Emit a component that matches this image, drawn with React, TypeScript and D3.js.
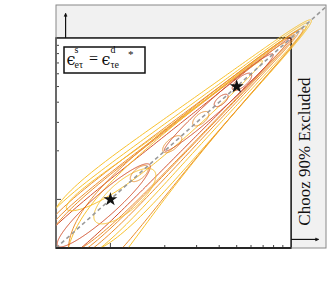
import * as d3 from "d3";

// axis ranges (both axes logarithmic)
const axisMin = 0.5;
const axisMaxX = 15.6;
const axisMaxY = 16;
const choozLimit = 10;
const tickValues = [1, 2, 3, 4, 5, 6, 7, 8, 9];
const majorTicks = [1];
const arrowAt = 0.565;
const arrowTo = 14.2;
const truePoints = [1, 5];
const levels = ["1s", "2s", "3s"];

// long contours, ellipses in linear space: level, centre on the diagonal,
// half length along it, half width across it, offset across it
const bandLevel = ["3s", "3s", "2s", "2s", "1s", "3s", "2s", "3s", "2s"];
const bandCentre = [6.7, 6.4, 5.7, 5.45, 5.2, 3.9, 4.9, 6.2, 6.0];
const bandHalfLength = [6.2, 6.0, 5.3, 5.05, 4.85, 3.18, 4.45, 5.75, 5.5];
const bandHalfWidth = [0.78, 0.62, 0.5, 0.42, 0.3, 0.25, 0.38, 0.6, 0.62];
const bandOffset = [0, 0, 0, 0, 0, 0.14, 0, -0.15, -0.12];

// closed contours, ellipses in log10 space (decades)
const islandLevel = ["1s", "3s", "2s", "2s", "2s", "1s", "1s", "1s"];
const islandCentre = [-0.037, 0.05, 0.16, 0.342, 0.5, 0.613, 0.728, 0.6];
const islandHalfLength = [0.253, 0.16, 0.045, 0.048, 0.04, 0.035, 0.05, 0.3];
const islandHalfWidth = [0.048, 0.062, 0.022, 0.022, 0.02, 0.016, 0.02, 0.03];
const islandOffset = [0, -0.03, 0, 0, 0, 0, 0, 0];

const W = 327;
const H = 294;
const left = 56;
const right = 326;
const top = 5;
const bottom = 248;

const App = () => {
  const x = d3.scaleLog().domain([axisMin, axisMaxX]).range([left, right]);
  const y = d3.scaleLog().domain([axisMin, axisMaxY]).range([bottom, top]);
  const color = d3.scaleOrdinal<string, string>().domain(levels).range(["#d2502c", "#ec8f2e", "#f9c22e"]);

  const line = d3
    .line<[number, number]>()
    .x((d) => x(Math.max(d[0], 1e-3)))
    .y((d) => y(Math.max(d[1], 1e-3)))
    .curve(d3.curveLinearClosed);

  const angles = d3.range(0, 2 * Math.PI, Math.PI / 180);

  const bandPath = (i: number) => {
    const pts: [number, number][] = angles.map((th) => {
      const along = bandCentre[i] + bandHalfLength[i] * Math.cos(th);
      const across = bandOffset[i] + bandHalfWidth[i] * Math.sin(th);
      return [along - across, along + across];
    });
    return line(pts) || "";
  };

  const islandPath = (i: number) => {
    const pts: [number, number][] = angles.map((th) => {
      const along = islandCentre[i] + islandHalfLength[i] * Math.cos(th);
      const across = islandOffset[i] + islandHalfWidth[i] * Math.sin(th);
      return [Math.pow(10, along - across), Math.pow(10, along + across)];
    });
    return line(pts) || "";
  };

  const star = d3.symbol().type(d3.symbolStar).size(60)() || "";
  const serif = "'Liberation Serif', 'DejaVu Serif', serif";
  const eps = "'DejaVu Serif', serif";

  return (
    <svg width={W} height={H} style={{ position: "absolute", left: 0, top: 0 }}>
      <defs>
        <clipPath id="frame">
          <rect x={left} y={top} width={right - left} height={bottom - top} />
        </clipPath>
      </defs>
      <rect width={W} height={H} fill="#fff" />
      {/* excluded region */}
      <rect x={left} y={top} width={right - left} height={bottom - top} fill="#f1f1f1" />
      <rect
        x={left}
        y={y(choozLimit)}
        width={x(choozLimit) - left}
        height={bottom - y(choozLimit)}
        fill="#fff"
        stroke="#111"
        strokeWidth={1.5}
      />

      {/* ticks */}
      {tickValues.map((v) => (
        <g key={v} stroke="#444" strokeWidth={1}>
          <line x1={x(v)} x2={x(v)} y1={bottom} y2={bottom - (majorTicks.includes(v) ? 5 : 3)} />
          <line x1={left} x2={left + (majorTicks.includes(v) ? 5 : 3)} y1={y(v)} y2={y(v)} />
        </g>
      ))}

      <g clipPath="url(#frame)" fill="none" strokeWidth={1}>
        {bandCentre.map((_, i) => (
          <path key={"b" + i} d={bandPath(i)} stroke={color(bandLevel[i])} />
        ))}
        {islandCentre.map((_, i) => (
          <path key={"i" + i} d={islandPath(i)} stroke={color(islandLevel[i])} />
        ))}
        <line
          x1={x(axisMin)}
          y1={y(axisMin)}
          x2={x(axisMaxY)}
          y2={y(axisMaxY)}
          stroke="#999"
          strokeWidth={1.6}
          strokeDasharray="4,3"
        />
      </g>

      {truePoints.map((v) => (
        <path key={v} d={star} transform={`translate(${x(v)},${y(v)})`} fill="#111" />
      ))}

      {/* Chooz arrows */}
      <g stroke="#111" strokeWidth={1.2} fill="#111">
        <line x1={x(arrowAt)} x2={x(arrowAt)} y1={y(choozLimit)} y2={y(arrowTo)} />
        <path d={`M${x(arrowAt) - 1.5},${y(arrowTo) + 3}L${x(arrowAt)},${y(arrowTo)}L${x(arrowAt) + 1.5},${y(arrowTo) + 3}Z`} strokeWidth={0.5} />
        <line x1={x(choozLimit)} x2={x(arrowTo)} y1={y(arrowAt)} y2={y(arrowAt)} />
        <path d={`M${x(arrowTo) - 3},${y(arrowAt) - 1.5}L${x(arrowTo)},${y(arrowAt)}L${x(arrowTo) - 3},${y(arrowAt) + 1.5}Z`} strokeWidth={0.5} />
      </g>

      {/* legend */}
      <rect x={64} y={47} width={81} height={26} fill="#fff" stroke="#111" strokeWidth={1.5} />
      <text fontFamily={serif} fill="#111" fontSize={16}>
        <tspan x={66.5} y={65} fontFamily={eps}>ϵ</tspan>
        <tspan x={74.5} y={52.5} fontSize={10}>s</tspan>
        <tspan x={74.5} y={68} fontSize={10}>eτ</tspan>
        <tspan x={89} y={63.5}>=</tspan>
        <tspan x={101.5} y={65} fontFamily={eps}>ϵ</tspan>
        <tspan x={110.5} y={52.5} fontSize={10}>d</tspan>
        <tspan x={110.5} y={68} fontSize={10}>τe</tspan>
        <tspan x={128} y={58} fontSize={11}>*</tspan>
      </text>

      <text
        transform={`translate(310,${(top + bottom) / 2 + 25}) rotate(-90)`}
        textAnchor="middle"
        fontFamily={serif}
        fontSize={17}
        fill="#111"
      >
        Chooz 90% Excluded
      </text>

      {/* outer frame */}
      <rect x={left} y={top} width={right - left} height={bottom - top} fill="none" stroke="#888" strokeWidth={1} />
      <line x1={left} x2={x(choozLimit)} y1={bottom} y2={bottom} stroke="#111" strokeWidth={1.5} />
    </svg>
  );
};

export default App;
